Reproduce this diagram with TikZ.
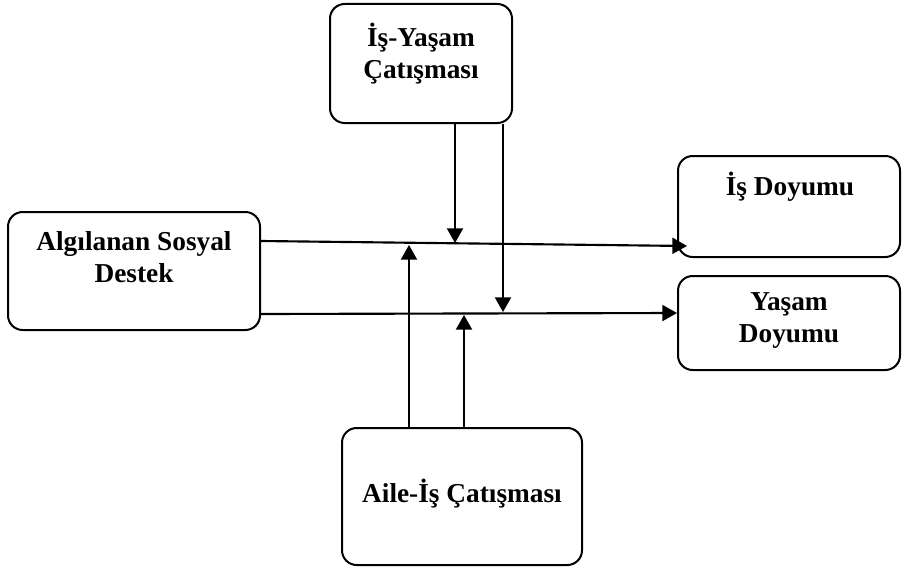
\documentclass[tikz,border=0pt]{standalone}
\usepackage{fontspec}
\setmainfont{Liberation Serif}
\usetikzlibrary{calc, positioning, arrows.meta}

\tikzset{
  box/.style={draw, line width=1.5pt, rounded corners=11pt, inner sep=0pt},
  boxtext/.style={font=\bfseries\fontsize{20.5}{24}\selectfont, align=center, inner sep=0pt},
  arr/.style={line width=1.6pt, -{Triangle[length=11pt, width=12pt]}}
}

\begin{document}
\begin{tikzpicture}[x=0.75pt, y=-0.75pt]
            \useasboundingbox (0,0) rectangle (902,567);

            % Boxes
            \node[box, minimum width=136.5pt, minimum height=89.25pt] (iyc) at (421,63.5) {};
            \node[boxtext] (iyct) at (421,54) {İş-Yaşam\\Çatışması};
            \node[box, minimum width=189pt, minimum height=88.5pt] (asd) at (134,271) {};
            \node[boxtext] (asdt) at (134,257) {Algılanan Sosyal\\Destek};
            \node[box, minimum width=166.5pt, minimum height=75.75pt] (isd) at (789,206.5) {};
            \node[boxtext] (isdt) at (790,187) {İş Doyumu};
            \node[box, minimum width=166.5pt, minimum height=70.5pt] (yd) at (789,323) {};
            \node[boxtext] (ydt) at (789,320) {Yaşam\\Doyumu};
            \node[box, minimum width=180pt, minimum height=102.75pt] (aic) at (462,496.5) {};
            \node[boxtext] (aict) at (462,494) {Aile-İş Çatışması};

            % Main paths
            \draw[arr] ($(asd.east)+(0,-30)$) -- ($(isd.west)+(10,39.5)$);
            \draw[arr] ($(asd.east)+(0,43)$) -- ($(yd.west)+(0,-10)$);

            % Moderators
            \coordinate (m1) at (455,243);
            \coordinate (m2) at (503,312);
            \coordinate (m3) at (409,245);
            \coordinate (m4) at (464,315);
            \draw[arr] ($(iyc.south)+(34,0)$) -- (m1);
            \draw[arr] ($(iyc.south)+(82,0)$) -- (m2);
            \draw[arr] ($(aic.north)+(-53,0)$) -- (m3);
            \draw[arr] ($(aic.north)+(2,0)$) -- (m4);
        \end{tikzpicture}
\end{document}
